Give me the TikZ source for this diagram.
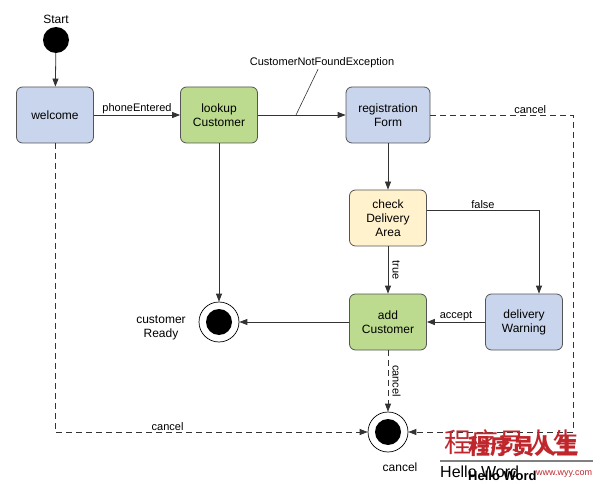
\documentclass[tikz,border=0pt]{standalone}
\usepackage{fontspec}
\setmainfont{Liberation Sans}
\newfontfamily\cjkfont{Noto Sans CJK SC}
\usetikzlibrary{arrows.meta,calc}
\definecolor{stblue}{HTML}{C9D5EC}
\definecolor{stgreen}{HTML}{BCDB8E}
\definecolor{styellow}{HTML}{FFF2CC}
\definecolor{stborder}{HTML}{555555}
\definecolor{lnc}{HTML}{333333}
\definecolor{wmred}{HTML}{C0272D}
\begin{document}
\begin{tikzpicture}[x=1pt,y=-1pt,
  state/.style={draw=stborder,line width=0.8pt,rounded corners=6pt,minimum width=77pt,minimum height=56pt,align=center,font=\fontsize{12}{14}\selectfont,inner sep=1pt},
  initst/.style={circle,fill=black,minimum size=26pt,inner sep=0pt},
  finalst/.style={circle,draw=black,line width=0.7pt,minimum size=40pt,inner sep=0pt,path picture={\fill[black] (path picture bounding box.center) circle (13pt);}},
  conn/.style={draw=lnc,line width=0.8pt,-{Triangle[length=8pt,width=6pt]}},
  dconn/.style={conn,dash pattern=on 6pt off 4pt},
  lbl/.style={font=\fontsize{11}{13}\selectfont,inner sep=1pt},
  vlbl/.style={lbl,rotate=-90,anchor=south,inner sep=4pt},
  bigl/.style={font=\fontsize{12}{14}\selectfont,align=center,inner sep=1pt}]
\useasboundingbox (0,0) rectangle (600,484);
% nodes
\node[initst] (start) at (56,40) {};
\node[bigl] (starttxt) at (56,19) {Start};
\node[state,fill=stblue] (welcome) at (55,115) {welcome};
\node[state,fill=stgreen] (lookup) at (219,115) {lookup\\Customer};
\node[state,fill=stblue,minimum width=84pt] (reg) at (388,115) {registration\\Form};
\node[state,fill=styellow] (check) at (388,218) {check\\Delivery\\Area};
\node[state,fill=stgreen] (add) at (388,322) {add\\Customer};
\node[state,fill=stblue] (warn) at (524,322) {delivery\\Warning};
\node[finalst] (ready) at (219,322) {};
\node[bigl] (readytxt) at (161,328) {customer\\Ready};
\node[finalst] (cancelst) at (388,432) {};
\node[bigl] (canceltxt) at (400,467) {cancel};
% edges
\draw[conn] (start) -- (welcome);
\draw[conn] (welcome) -- node[lbl,above] {phoneEntered} (lookup);
\draw[conn] (lookup) -- (reg);
\node[lbl] (cnfe) at (322,63) {CustomerNotFoundException};
\coordinate (cnfeleg) at (296,115);
\draw[lnc,line width=0.6pt] (cnfeleg) -- (cnfe.south -| 318,0) ;
\draw[conn] (reg) -- (check);
\draw[conn] (check.east |- 0,210) -| node[lbl,pos=0.25,above] {false} (warn.north -| 539,0);
\draw[conn] (check) -- node[vlbl] {true} (add);
\draw[conn] (warn) -- node[lbl,above] {accept} (add);
\draw[conn] (add) -- (ready);
\draw[conn] (lookup) -- (ready);
\draw[dconn] (add) -- node[vlbl] {cancel} (cancelst);
\draw[dconn] (welcome.south) |- node[lbl,pos=0.68,above] {cancel} (cancelst.west);
\draw[dconn] (reg.east) -| node[lbl,pos=0.35,above] {cancel} (573,432) -- (cancelst.east);
% watermark
\node[text=wmred,font=\cjkfont\fontsize{27}{29}\selectfont,inner sep=0pt,anchor=west] (wm1) at (444,442) {程序员人生};
\node[text=wmred,font=\cjkfont\bfseries\fontsize{22}{24}\selectfont,inner sep=0pt,anchor=west] (wm3) at (468,446) {程序员人生};
\draw[gray,line width=1.6pt] (440,461) -- (593,461);
\node[font=\fontsize{16}{18}\selectfont,inner sep=0pt,anchor=west] (wm2) at (440,472) {Hello Word};
\node[font=\bfseries\fontsize{13}{15}\selectfont,inner sep=0pt,anchor=west] (wm4) at (468,476) {Hello Word};
\node[text=wmred,font=\fontsize{9}{11}\selectfont,inner sep=0pt,anchor=west] (wm5) at (536,474) {www.wyy.com};
\end{tikzpicture}
\end{document}
